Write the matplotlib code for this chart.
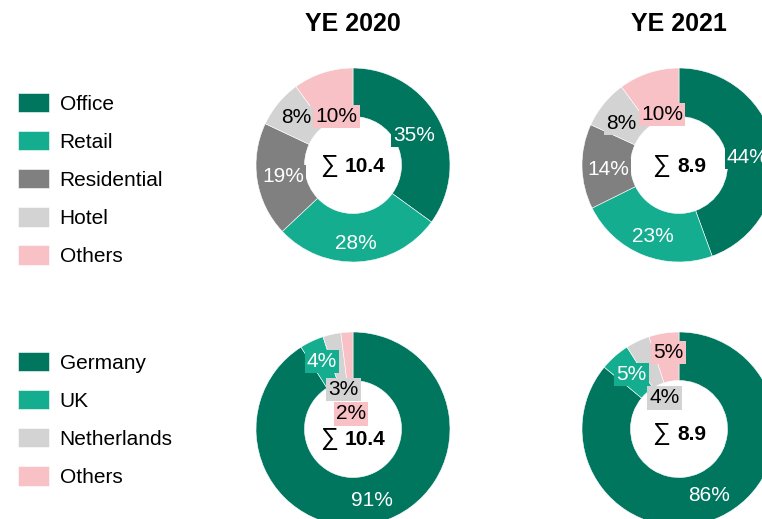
import numpy as np
import matplotlib
matplotlib.use('Agg')
import matplotlib.pyplot as plt
from matplotlib.offsetbox import TextArea, HPacker, AnnotationBbox

plt.rcParams['font.family'] = ['Liberation Sans', 'DejaVu Sans']

# Dados
sectors = ['Office', 'Retail', 'Residential', 'Hotel', 'Others']
sector_2020 = [35, 28, 19, 8, 10]
sector_2021 = [44, 23, 14, 8, 10]
countries = ['Germany', 'UK', 'Netherlands', 'Others']
country_2020 = [91, 4, 3, 2]
country_2021 = [86, 5, 4, 5]
totals = ['10.4', '8.9']
years = ['YE 2020', 'YE 2021']

# Cores
sector_colors = ['#00765F', '#15AD8F', '#808080', '#D3D3D3', '#F8C1C6']
sector_txt = ['white', 'white', 'white', 'black', 'black']
country_colors = ['#00765F', '#15AD8F', '#D3D3D3', '#F8C1C6']
country_txt = ['white', 'white', 'black', 'black']

# Posições dos rótulos (raio = 1)
lab_tl = [(0.63, 0.30), (0.03, -0.81), (-0.72, -0.12), (-0.59, 0.49), (-0.17, 0.50)]
lab_tr = [(0.71, 0.08), (-0.27, -0.74), (-0.73, -0.05), (-0.60, 0.43), (-0.175, 0.52)]
lab_bl = [(0.20, -0.74), (-0.32, 0.70), (-0.10, 0.41), (-0.02, 0.155)]
lab_br = [(0.31, -0.69), (-0.49, 0.56), (-0.15, 0.32), (-0.11, 0.79)]

W, H = 762, 519
R = 97
fig = plt.figure(figsize=(W / 100, H / 100), dpi=100)


def donut(cx, cy, values, colors, txtcols, label_pos, total, sum_y):
    m = 1.05
    ax = fig.add_axes([(cx - R * m) / W, 1 - (cy + R * m) / H, 2 * R * m / W, 2 * R * m / H])
    wedges, _ = ax.pie(values, colors=colors, startangle=90, counterclock=False, radius=1,
                       wedgeprops=dict(width=0.5, edgecolor='white', linewidth=0.4))
    ax.set_xlim(-m, m)
    ax.set_ylim(-m, m)
    ax.set_aspect('equal')
    for v, c, tc, (x, y) in zip(values, colors, txtcols, label_pos):
        ax.text(x, y, f'{v}%', ha='center', va='center', fontsize=15, color=tc,
                bbox=dict(boxstyle='square,pad=0.1', fc=c, ec='none'))
    t1 = TextArea('∑', textprops=dict(fontsize=18))
    t2 = TextArea(total, textprops=dict(fontsize=15, fontweight='bold'))
    box = HPacker(children=[t1, t2], align='baseline', pad=0, sep=5)
    ab = AnnotationBbox(box, (0, sum_y), xycoords='data', frameon=False, box_alignment=(0.5, 0.5))
    ax.add_artist(ab)
    return wedges


w_top = donut(353, 165, sector_2020, sector_colors, sector_txt, lab_tl, totals[0], 0.0)
donut(679, 165, sector_2021, sector_colors, sector_txt, lab_tr, totals[1], 0.0)
w_bot = donut(353, 429, country_2020, country_colors, country_txt, lab_bl, totals[0], -0.09)
donut(679, 429, country_2021, country_colors, country_txt, lab_br, totals[1], -0.04)

# Títulos
fig.text(353 / W, 1 - 24 / H, years[0], ha='center', va='center', fontsize=18, fontweight='bold')
fig.text(679 / W, 1 - 24 / H, years[1], ha='center', va='center', fontsize=18, fontweight='bold')

# Legendas
leg_kw = dict(loc='upper left', frameon=False, fontsize=15, handlelength=1.5, handleheight=1.05,
              handletextpad=0.5, labelspacing=0.83, borderpad=0, borderaxespad=0)
fig.legend(w_top, sectors, bbox_to_anchor=(18 / W, 1 - 93 / H), **leg_kw)
fig.legend(w_bot, countries, bbox_to_anchor=(18 / W, 1 - 352 / H), **leg_kw)

plt.savefig('out.png', dpi=100)
